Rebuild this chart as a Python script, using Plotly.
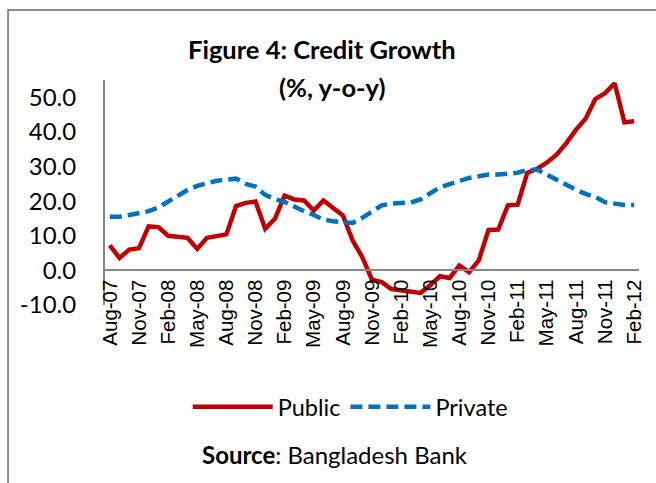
import plotly.graph_objects as go
import pandas as pd

months = list(pd.date_range("2007-08-01", periods=55, freq="MS").strftime("%b-%y"))
tick_labels = months[::3]

public = [7.2, 3.6, 6.0, 6.4, 12.7, 12.5, 10.0, 9.6, 9.4, 6.2, 9.4, 9.9, 10.4,
          18.6, 19.5, 19.9, 12.0, 14.9, 21.6, 20.5, 20.2, 17.3, 20.2, 18.0, 15.9,
          8.7, 3.8, -2.7, -3.4, -5.4, -5.8, -6.1, -6.5, -4.3, -1.7, -2.2, 1.4,
          -0.5, 2.9, 11.7, 11.8, 18.8, 19.0, 28.2, 29.3, 31.1, 33.4, 36.7, 40.6,
          43.8, 49.5, 51.2, 54.0, 42.8, 43.1]
private = [15.5, 15.5, 16.0, 16.6, 17.1, 18.2, 19.8, 21.6, 23.2, 24.4, 25.2, 25.9,
           26.2, 26.5, 25.0, 24.2, 21.8, 20.6, 19.8, 18.3, 17.1, 16.0, 14.7, 14.2,
           14.0, 13.7, 15.2, 16.9, 18.8, 19.3, 19.3, 19.6, 20.5, 22.3, 24.0, 24.9,
           25.9, 26.7, 27.2, 27.7, 27.7, 28.0, 28.2, 29.0, 29.1, 27.7, 26.2, 24.8,
           23.3, 22.1, 21.2, 19.7, 19.2, 18.9, 18.9]

W, H = 656, 483
L, R, T, B = 105, 11, 80, 178
pw, ph = W - L - R, H - T - B
def px(x): return (x - L) / pw
def py(y): return (H - B - y) / ph

ymin, ymax = -10, 55

fig = go.Figure()
fig.add_trace(go.Scatter(x=months, y=public, mode="lines", name="Public",
                         line=dict(color="#C00000", width=4.5)))
fig.add_trace(go.Scatter(x=months, y=private, mode="lines", name="Private",
                         line=dict(color="#0070C0", width=4.5, dash="12px,6px")))

fig.update_layout(
    width=W, height=H,
    margin=dict(l=L, r=R, t=T, b=B),
    paper_bgcolor="white", plot_bgcolor="white",
    showlegend=True,
    legend=dict(orientation="h", x=px(353), xanchor="center", y=py(407), yanchor="middle",
                font=dict(family="Lato", size=23.5, color="black"), itemwidth=80,
                traceorder="normal"),
    xaxis=dict(type="category", categoryorder="array", categoryarray=months,
               range=[-0.5, len(months) - 0.5],
               tickmode="array", tickvals=tick_labels, ticktext=tick_labels,
               tickangle=-90, showgrid=False, showline=True, linecolor="#868686",
               linewidth=2, anchor="free", position=(0 - ymin) / (ymax - ymin),
               ticks="", tickfont=dict(family="Liberation Sans", size=20.5, color="black")),
    yaxis=dict(range=[ymin, ymax], tickmode="array",
               tickvals=[-10, 0, 10, 20, 30, 40, 50],
               ticktext=["-10.0", "0.0", "10.0", "20.0", "30.0", "40.0", "50.0"],
               showgrid=False, zeroline=False, showline=True, linecolor="#868686",
               linewidth=2, ticks="", ticklabelstandoff=22,
               tickfont=dict(family="Lato", size=24, color="black")),
    annotations=[
        dict(text="<b>Figure 4: Credit Growth</b>", x=px(324), y=py(49), xref="paper",
             yref="paper", showarrow=False, xanchor="center", yanchor="middle",
             font=dict(family="Lato", size=25.5, color="black")),
        dict(text="<b>(%, y-o-y)</b>", x=px(335), y=py(87), xref="paper",
             yref="paper", showarrow=False, xanchor="center", yanchor="middle",
             font=dict(family="Lato", size=25.5, color="black")),
        dict(text="<b>Source</b>: Bangladesh Bank", x=px(338), y=py(455), xref="paper",
             yref="paper", showarrow=False, xanchor="center", yanchor="middle",
             font=dict(family="Lato", size=24, color="black")),
    ],
    shapes=[dict(type="rect", xref="paper", yref="paper",
                 x0=px(7), x1=px(670), y0=py(500), y1=py(10),
                 line=dict(color="#8C8C8C", width=2), layer="below")],
)

fig.write_html("out.html")
